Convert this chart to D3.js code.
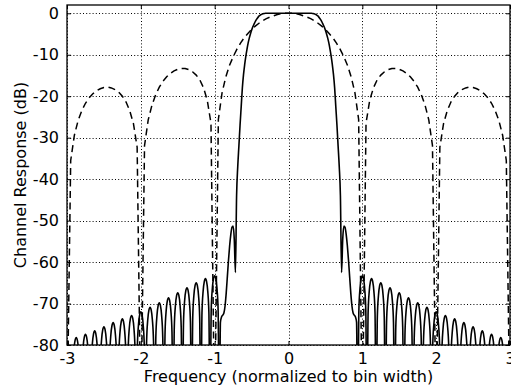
<!DOCTYPE html>
<html>
<head>
<meta charset="utf-8">
<script src="https://cdn.jsdelivr.net/npm/d3@7"></script>
<style>
  body { margin: 0; background: #fff; }
  svg { display: block; font-family: "DejaVu Sans", sans-serif; }
</style>
</head>
<body>
<div id="graph-content"></div>
<script>
// axis ticks: frequency in bin widths, response in dB
let xTicks = [-3, -2, -1, 0, 1, 2, 3];
let yTicks = [0, -10, -20, -30, -40, -50, -60, -70, -80];

// plain FFT bin response (dashed), one value every 0.05 bin from -3 to 3
let fftStart = -3, fftStep = 0.05;
let fftResponse = [
  -100, -35.5, -29.4, -25.9, -23.5, -21.7, -20.4, -19.4, -18.7, -18.2,
  -17.9, -17.8, -18.0, -18.4, -19.0, -20.0, -21.4, -23.5, -26.6, -32.3,
  -100, -31.9, -25.7, -22.2, -19.7, -17.8, -16.4, -15.3, -14.5, -13.9,
  -13.5, -13.3, -13.3, -13.6, -14.1, -14.9, -16.1, -18.0, -21.0, -26.5,
  -100, -25.6, -19.2, -15.4, -12.6, -10.5, -8.7, -7.2, -5.9, -4.9,
  -3.9, -3.1, -2.4, -1.8, -1.3, -0.9, -0.6, -0.3, -0.1, 0.0,
  0,
  0.0, -0.1, -0.3, -0.6, -0.9, -1.3, -1.8, -2.4, -3.1, -3.9,
  -4.9, -5.9, -7.2, -8.7, -10.5, -12.6, -15.4, -19.2, -25.6, -100,
  -26.5, -21.0, -18.0, -16.1, -14.9, -14.1, -13.6, -13.3, -13.3, -13.5,
  -13.9, -14.5, -15.3, -16.4, -17.8, -19.7, -22.2, -25.7, -31.9, -100,
  -32.3, -26.6, -23.5, -21.4, -20.0, -19.0, -18.4, -18.0, -17.8, -17.9,
  -18.2, -18.7, -19.4, -20.4, -21.7, -23.5, -25.9, -29.4, -35.5, -100
];

// filter bank channel response (solid), one value every 1/64 bin from -3 to 3
let pfbStart = -3, pfbStep = 1 / 64;
let pfbResponse = [
  -79.0, -79.7, -82.0, -87.3, -100, -86.5, -81.2, -78.9,
  -78.2, -78.9, -81.2, -86.5, -100, -85.7, -80.4, -78.1,
  -77.4, -78.1, -80.4, -85.7, -100, -84.9, -79.6, -77.3,
  -76.6, -77.3, -79.6, -84.9, -100, -83.9, -78.6, -76.3,
  -75.6, -76.3, -78.6, -83.9, -100, -82.9, -77.6, -75.3,
  -74.6, -75.3, -77.6, -82.9, -100, -82.0, -76.7, -74.4,
  -73.7, -74.4, -76.7, -82.0, -100, -81.2, -75.9, -73.6,
  -72.9, -73.6, -75.9, -81.2, -100, -80.3, -75.0, -72.7,
  -72.0, -72.7, -75.0, -80.3, -100, -79.2, -73.9, -71.6,
  -70.9, -71.6, -73.9, -79.2, -100, -78.1, -72.8, -70.5,
  -69.8, -70.5, -72.8, -78.1, -100, -76.9, -71.6, -69.3,
  -68.6, -69.3, -71.6, -76.9, -100, -75.7, -70.4, -68.1,
  -67.4, -68.1, -70.4, -75.7, -100, -74.5, -69.2, -66.9,
  -66.2, -66.9, -69.2, -74.5, -100, -73.3, -68.0, -65.7,
  -65.0, -65.7, -68.0, -73.3, -100, -72.3, -67.0, -64.7,
  -64.0, -64.7, -67.0, -72.3, -100, -71.6, -66.3, -64.0,
  -63.3, -64.0, -66.3, -71.6, -100, -74.5, -73.2, -72.8,
  -72.3, -70.6, -67.5, -63.5, -59.5, -56.0, -53.3, -51.6,
  -51.3, -54.5, -62.5, -44.0, -37.0, -32.0, -27.0, -22.5,
  -18.0, -14.8, -12.4, -10.4, -8.7, -7.2, -6.0, -5.0,
  -4.1, -3.3, -2.7, -2.1, -1.6, -1.2, -0.8, -0.55,
  -0.35, -0.2, -0.1, -0.05, 0, 0, 0, 0,
  0, 0, 0, 0, 0, 0, 0, 0,
  0, 0, 0, 0, 0, 0, 0, 0,
  0, 0, 0, 0, 0, 0, 0, 0,
  0, 0, 0, 0, 0, 0, 0, 0,
  0, 0, 0, 0, 0, -0.05, -0.1, -0.2,
  -0.35, -0.55, -0.8, -1.2, -1.6, -2.1, -2.7, -3.3,
  -4.1, -5.0, -6.0, -7.2, -8.7, -10.4, -12.4, -14.8,
  -18.0, -22.5, -27.0, -32.0, -37.0, -44.0, -62.5, -54.5,
  -51.3, -51.6, -53.3, -56.0, -59.5, -63.5, -67.5, -70.6,
  -72.3, -72.8, -73.2, -74.5, -100, -71.6, -66.3, -64.0,
  -63.3, -64.0, -66.3, -71.6, -100, -72.3, -67.0, -64.7,
  -64.0, -64.7, -67.0, -72.3, -100, -73.3, -68.0, -65.7,
  -65.0, -65.7, -68.0, -73.3, -100, -74.5, -69.2, -66.9,
  -66.2, -66.9, -69.2, -74.5, -100, -75.7, -70.4, -68.1,
  -67.4, -68.1, -70.4, -75.7, -100, -76.9, -71.6, -69.3,
  -68.6, -69.3, -71.6, -76.9, -100, -78.1, -72.8, -70.5,
  -69.8, -70.5, -72.8, -78.1, -100, -79.2, -73.9, -71.6,
  -70.9, -71.6, -73.9, -79.2, -100, -80.3, -75.0, -72.7,
  -72.0, -72.7, -75.0, -80.3, -100, -81.2, -75.9, -73.6,
  -72.9, -73.6, -75.9, -81.2, -100, -82.0, -76.7, -74.4,
  -73.7, -74.4, -76.7, -82.0, -100, -82.9, -77.6, -75.3,
  -74.6, -75.3, -77.6, -82.9, -100, -83.9, -78.6, -76.3,
  -75.6, -76.3, -78.6, -83.9, -100, -84.9, -79.6, -77.3,
  -76.6, -77.3, -79.6, -84.9, -100, -85.7, -80.4, -78.1,
  -77.4, -78.1, -80.4, -85.7, -100, -86.5, -81.2, -78.9,
  -78.2, -78.9, -81.2, -86.5, -100, -87.3, -82.0, -79.7,
  -79.0
];

let margin = {top: 5, right: 1, bottom: 44, left: 67}
  , width = 511 - margin.left - margin.right
  , height = 389 - margin.top - margin.bottom;

let xScale = d3.scaleLinear().domain([-3, 3]).range([0, width]);
let yScale = d3.scaleLinear().domain([-80, 2]).range([height, 0]);

let fftData = fftResponse.map((v, i) => ({x: fftStart + i * fftStep, y: v}));
let pfbData = pfbResponse.map((v, i) => ({x: pfbStart + i * pfbStep, y: v}));

let svg = d3.select("#graph-content").append("svg")
  .attr("width", 511)
  .attr("height", 389)
  .append("g")
  .attr("transform", "translate(" + margin.left + "," + margin.top + ")");

svg.append("defs").append("clipPath")
  .attr("id", "plot-clip")
  .append("rect")
  .attr("width", width)
  .attr("height", height);

// dotted grid
let grid = svg.append("g").attr("class", "grid")
  .attr("stroke", "#000")
  .attr("stroke-width", 1)
  .attr("stroke-dasharray", "1,2.2");
grid.selectAll(".vgrid").data(xTicks).enter().append("line")
  .attr("x1", d => Math.round(xScale(d)) + 0.5).attr("x2", d => Math.round(xScale(d)) + 0.5)
  .attr("y1", 0).attr("y2", height);
grid.selectAll(".hgrid").data(yTicks).enter().append("line")
  .attr("y1", d => Math.round(yScale(d)) + 0.5).attr("y2", d => Math.round(yScale(d)) + 0.5)
  .attr("x1", 0).attr("x2", width);

let plot = svg.append("g").attr("clip-path", "url(#plot-clip)");

let line = d3.line()
  .x(d => xScale(d.x))
  .y(d => yScale(d.y));

plot.append("path")
  .datum(fftData)
  .attr("fill", "none")
  .attr("stroke", "#000")
  .attr("stroke-width", 1.5)
  .attr("stroke-dasharray", "7,4.5")
  .attr("d", line);

plot.append("path")
  .datum(pfbData)
  .attr("fill", "none")
  .attr("stroke", "#000")
  .attr("stroke-width", 1.6)
  .attr("stroke-linejoin", "round")
  .attr("d", line.curve(d3.curveMonotoneX));

// axes with inward ticks, labels drawn below / left
svg.append("g")
  .attr("transform", "translate(0," + height + ")")
  .call(d3.axisBottom(xScale).tickValues(xTicks).tickSize(-4).tickPadding(8)
    .tickFormat(d => String(d)));
svg.append("g")
  .call(d3.axisLeft(yScale).tickValues(yTicks).tickSize(-4).tickPadding(8)
    .tickFormat(d => String(d)));
svg.append("g")
  .call(d3.axisTop(xScale).tickValues(xTicks).tickSize(-4).tickFormat(""));
svg.append("g")
  .attr("transform", "translate(" + width + ",0)")
  .call(d3.axisRight(yScale).tickValues(yTicks).tickSize(-4).tickFormat(""));

svg.selectAll(".domain").remove();
svg.selectAll(".tick text")
  .attr("fill", "#000")
  .style("font-size", "16px")
  .style("font-family", "DejaVu Sans");

svg.append("rect")
  .attr("x", 0).attr("y", 0)
  .attr("width", width).attr("height", height)
  .attr("fill", "none")
  .attr("stroke", "#000")
  .attr("stroke-width", 1.3);

svg.append("text")
  .attr("text-anchor", "middle")
  .attr("x", width / 2)
  .attr("y", height + 37)
  .style("font-size", "16px")
  .text("Frequency (normalized to bin width)");

svg.append("text")
  .attr("text-anchor", "middle")
  .attr("transform", "translate(" + (-41) + "," + (height / 2) + ") rotate(-90)")
  .style("font-size", "16px")
  .text("Channel Response (dB)");
</script>
</body>
</html>
